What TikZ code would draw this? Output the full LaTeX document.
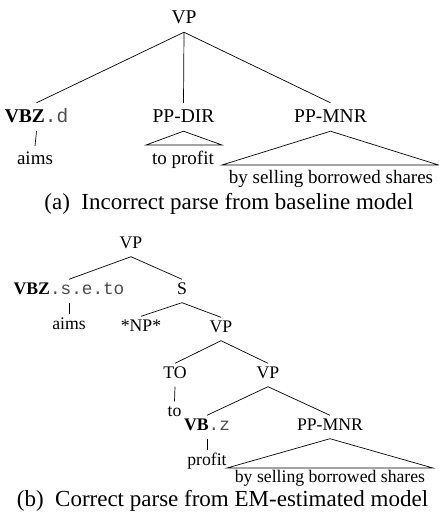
\documentclass[tikz,border=0pt]{standalone}
\usepackage{fontspec}
\setmainfont{Liberation Serif}
\setmonofont{Liberation Mono}
\newcommand{\tagtt}[1]{\textcolor{black!70}{\texttt{#1}}}
\begin{document}
\begin{tikzpicture}[x=1pt,y=-1pt,
  edge/.style={line width=0.7pt},
  catA/.style={anchor=base,inner xsep=0pt,inner ysep=4pt,text height=15pt,text depth=5pt,font=\fontsize{19.5}{22}\selectfont},
  wordA/.style={anchor=base,inner xsep=0pt,inner ysep=3pt,text height=15pt,text depth=3pt,font=\fontsize{19}{22}\selectfont},
  catB/.style={anchor=base,inner xsep=0pt,inner ysep=4pt,text height=10.5pt,text depth=4.5pt,font=\fontsize{17.7}{21}\selectfont},
  wordB/.style={anchor=base,inner xsep=0pt,inner ysep=2pt,text height=12pt,text depth=3pt,font=\fontsize{17.7}{21}\selectfont},
  capt/.style={anchor=base,inner sep=0pt,font=\fontsize{23}{27}\selectfont}]
\useasboundingbox (0,0) rectangle (439,517);
% ---------- (a) ----------
\node[catA] (vpA) at (184,23) {VP};
\node[catA] (vbzA) at (36.5,122) {\textbf{VBZ}\tagtt{.d}};
\node[catA] (ppdirA) at (183.5,122) {PP-DIR};
\node[catA] (ppmnrA) at (330.5,122) {PP-MNR};
\node[wordA] (aimsA) at (35,164) {aims};
\node[wordA] (toprofA) at (183,164) {to profit};
\node[wordA] (bysellA) at (331,183) {by selling borrowed shares};
\coordinate (tdl) at (146,145);
\coordinate (tdr) at (222,145);
\coordinate (tml) at (222,165);
\coordinate (tmr) at (438.6,165);
\draw[edge] (vpA.south) -- (vbzA.north);
\draw[edge] (vpA.south) -- (ppdirA.north);
\draw[edge] (vpA.south) -- (ppmnrA.north);
\draw[edge] (vbzA.south) -- (aimsA.north);
\draw[edge] (ppdirA.south) -- (tdl) -- (tdr) -- cycle;
\draw[edge] (ppmnrA.south) -- (tml) -- (tmr) -- cycle;
\node[capt] (capA) at (229,209) {(a)\hspace{0.5em}Incorrect parse from baseline model};
% ---------- (b) ----------
\node[catB] (vpB) at (131,248) {VP};
\node[catB] (vbzB) at (69,294) {\textbf{VBZ}\tagtt{.s.e.to}};
\node[catB] (sB) at (182,294) {S};
\node[catB] (aimsB) at (69,329) {aims};
\node[catB] (npB) at (141,331) {*NP*};
\node[catB] (vp2B) at (221,332) {VP};
\node[catB] (toB) at (175,378) {TO};
\node[catB] (vp3B) at (268,378) {VP};
\node[catB] (toW) at (174.5,416) {to};
\node[catB] (vbB) at (207,430) {\textbf{VB}\tagtt{.z}};
\node[catB] (ppmnrB) at (330,430) {PP-MNR};
\node[catB] (profitB) at (207,465) {profit};
\node[wordB] (bysellB) at (330,482) {by selling borrowed shares};
\coordinate (tbl) at (227,468);
\coordinate (tbr) at (433,468);
\draw[edge] (vpB.south) -- (vbzB.north);
\draw[edge] (vpB.south) -- (sB.north);
\draw[edge] (vbzB.south) -- (aimsB.north);
\draw[edge] (sB.south) -- (npB.north);
\draw[edge] (sB.south) -- (vp2B.north);
\draw[edge] (vp2B.south) -- (toB.north);
\draw[edge] (vp2B.south) -- (vp3B.north);
\draw[edge] (toB.south) -- (toW.north);
\draw[edge] (vp3B.south) -- (vbB.north);
\draw[edge] (vp3B.south) -- (ppmnrB.north);
\draw[edge] (vbB.south) -- (profitB.north);
\draw[edge] (ppmnrB.south) -- (tbl) -- (tbr) -- cycle;
\node[capt] (capB) at (222.5,506) {(b)\hspace{0.5em}Correct parse from EM-estimated model};
\end{tikzpicture}
\end{document}
